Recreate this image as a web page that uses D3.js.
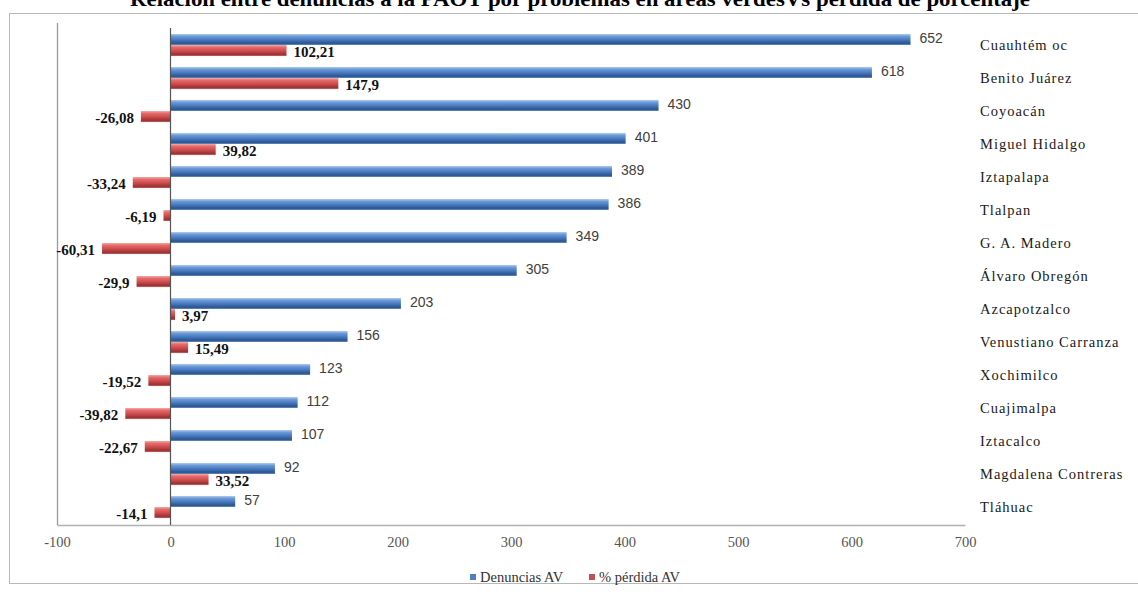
<!DOCTYPE html>
<html>
<head>
<meta charset="utf-8">
<script src="https://cdn.jsdelivr.net/npm/d3@7"></script>
<style>
  html, body { margin: 0; padding: 0; background: #ffffff; }
  svg { display: block; }
</style>
</head>
<body>
<svg id="chart" width="1138" height="594"></svg>
<script>
const categories = ["Cuauhtém oc", "Benito Juárez", "Coyoacán", "Miguel Hidalgo", "Iztapalapa", "Tlalpan", "G. A. Madero", "Álvaro Obregón", "Azcapotzalco", "Venustiano Carranza", "Xochimilco", "Cuajimalpa", "Iztacalco", "Magdalena Contreras", "Tláhuac"];
const denuncias = [652, 618, 430, 401, 389, 386, 349, 305, 203, 156, 123, 112, 107, 92, 57];
const perdida = [102.21, 147.9, -26.08, 39.82, -33.24, -6.19, -60.31, -29.9, 3.97, 15.49, -19.52, -39.82, -22.67, 33.52, -14.1];
const xTicks = [-100, 0, 100, 200, 300, 400, 500, 600, 700];
const seriesNames = ["Denuncias AV", "% pérdida AV"];
const title = "Relación entre denuncias a la PAOT por problemas en áreas verdesVs pérdida de porcentaje";

const svg = d3.select("#chart");
const defs = svg.append("defs");
const serif = "Liberation Serif, Times New Roman, serif";

function grad(id, stops) {
  const g = defs.append("linearGradient").attr("id", id).attr("x1", 0).attr("y1", 0).attr("x2", 0).attr("y2", 1);
  stops.forEach(s => g.append("stop").attr("offset", s[0]).attr("stop-color", s[1]));
}
grad("gBlue", [[0, "#b3cdef"], [0.22, "#6b9ad8"], [0.55, "#4577bd"], [0.85, "#2b538c"], [1, "#6690c6"]]);
grad("gRed", [[0, "#f3aaa7"], [0.22, "#e46a68"], [0.55, "#cc4a4c"], [0.85, "#993234"], [1, "#c86462"]]);

// outer frame
svg.append("rect").attr("x", 9.5).attr("y", 13.5).attr("width", 1140).attr("height", 570)
  .attr("fill", "#ffffff").attr("stroke", "#b8b8b8").attr("stroke-width", 1);

// title (partly clipped at top as in reference)
svg.append("text").attr("x", 580).attr("y", 6).attr("text-anchor", "middle")
  .attr("font-family", serif).attr("font-weight", "bold")
  .attr("font-size", 21).attr("fill", "#000").attr("textLength", 900).attr("lengthAdjust", "spacingAndGlyphs")
  .text(title);

const x = d3.scaleLinear().domain([-100, 700]).range([57, 965]);
const y = d3.scaleBand().domain(categories).range([28.5, 523.5]).paddingInner(0.33).paddingOuter(0.165);
const sub = d3.scaleBand().domain([0, 1]).range([0, y.bandwidth()]);

// plot left border
svg.append("line").attr("x1", 57.5).attr("x2", 57.5).attr("y1", 23).attr("y2", 525)
  .attr("stroke", "#9a9a9a").attr("stroke-width", 1.3);

// bottom axis
const axis = d3.axisBottom(x).tickValues(xTicks).tickSize(0).tickPadding(12).tickFormat(d => d);
const gAxis = svg.append("g").attr("transform", "translate(0,525)").call(axis);
gAxis.select(".domain").attr("stroke", "#b0b0b0").attr("stroke-width", 1.3);
gAxis.selectAll("text").attr("font-family", serif)
  .attr("font-size", 14.5).attr("fill", "#555");

const rows = categories.map((c, i) => ({c, d: denuncias[i], p: perdida[i]}));

// blue bars
svg.append("g").selectAll("rect").data(rows).join("rect")
  .attr("x", d => x(0)).attr("y", d => y(d.c) + sub(0))
  .attr("width", d => x(d.d) - x(0)).attr("height", sub.bandwidth())
  .attr("fill", "url(#gBlue)");

// red bars
svg.append("g").selectAll("rect").data(rows).join("rect")
  .attr("x", d => x(Math.min(0, d.p))).attr("y", d => y(d.c) + sub(1))
  .attr("width", d => Math.abs(x(d.p) - x(0))).attr("height", sub.bandwidth())
  .attr("fill", "url(#gRed)");

// zero line
svg.append("line").attr("x1", x(0)).attr("x2", x(0)).attr("y1", 28).attr("y2", 525)
  .attr("stroke", "#555").attr("stroke-width", 1.2);

// blue labels
svg.append("g").selectAll("text").data(rows).join("text")
  .attr("x", d => x(d.d) + 9).attr("y", d => y(d.c) + sub(0) + sub.bandwidth() / 2 - 1)
  .attr("dy", "0.35em").attr("font-family", "Liberation Sans, Arial, sans-serif")
  .attr("font-size", 14).attr("fill", "#404040").text(d => d.d);

// red labels
const fmt = v => String(v).replace(".", ",");
svg.append("g").selectAll("text").data(rows).join("text")
  .attr("x", d => d.p >= 0 ? x(d.p) + 7 : x(d.p) - 7)
  .attr("y", d => y(d.c) + sub(1) + sub.bandwidth() / 2 + 1)
  .attr("dy", "0.35em").attr("text-anchor", d => d.p >= 0 ? "start" : "end")
  .attr("font-family", serif).attr("font-weight", "bold")
  .attr("font-size", 15).attr("fill", "#111").text(d => fmt(d.p));

// category labels
svg.append("g").selectAll("text").data(rows).join("text")
  .attr("x", 980).attr("y", d => y(d.c) + y.bandwidth() / 2)
  .attr("dy", "0.35em").attr("font-family", serif).attr("letter-spacing", 1)
  .attr("font-size", 14.5).attr("fill", "#1a1a1a").text(d => d.c);

// legend
const legend = svg.append("g").attr("transform", "translate(0,577)");
const legItems = [{n: seriesNames[0], f: "#4f7fc0", x: 470}, {n: seriesNames[1], f: "#c0504d", x: 589}];
legItems.forEach(it => {
  legend.append("rect").attr("x", it.x).attr("y", -3).attr("width", 6).attr("height", 6).attr("fill", it.f);
  legend.append("text").attr("x", it.x + 10).attr("y", 0).attr("dy", "0.35em")
    .attr("font-family", serif).attr("font-size", 14.5)
    .attr("fill", "#333").text(it.n);
});
</script>
</body>
</html>
